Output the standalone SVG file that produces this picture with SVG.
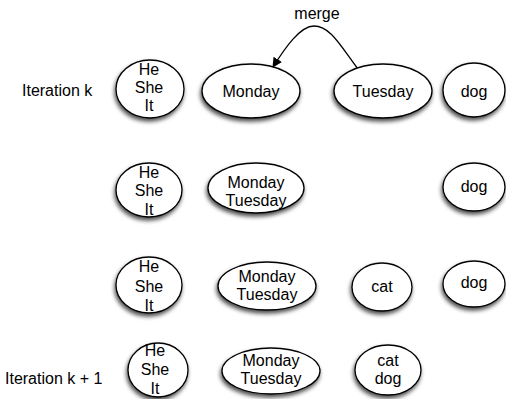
<svg xmlns="http://www.w3.org/2000/svg" width="506" height="399" viewBox="0 0 506 399">
<style>
text{font-family:"Liberation Sans",Arial,sans-serif;font-size:16px;fill:#000}
.c{text-anchor:middle}
.n{fill:#fff;stroke:#000;stroke-width:1.3;filter:url(#sh)}
.e{fill:none;stroke:#000;stroke-width:1.3}
</style>
<defs>
<filter id="sh" x="-30%" y="-30%" width="160%" height="170%">
<feDropShadow dx="-1" dy="3" stdDeviation="2" flood-color="#000" flood-opacity="0.7"/>
</filter>
<marker id="ah" viewBox="0 0 10 10" refX="9" refY="5" markerWidth="10" markerHeight="10" markerUnits="userSpaceOnUse" orient="auto">
<path d="M0,0 L10,5 L0,10 z" fill="#000"/>
</marker>
</defs>
<text x="22" y="96">Iteration k</text>
<text x="5" y="384">Iteration k + 1</text>
<g id="connectors">
<path class="e" d="M358,69 C340,45 330,26 314,26 C300,26 285,48 273,67" marker-end="url(#ah)"/>
<text class="c" x="317" y="19">merge</text>
</g>
<g id="r1-hesheit"><ellipse class="n" cx="150" cy="89" rx="34" ry="29"/><text class="c" x="149" y="75">He</text><text class="c" x="149" y="93">She</text><text class="c" x="149" y="111">It</text></g>
<g id="r1-monday"><ellipse class="n" cx="251" cy="91" rx="49" ry="27"/><text class="c" x="251" y="97">Monday</text></g>
<g id="r1-tuesday"><ellipse class="n" cx="383" cy="91" rx="49" ry="27"/><text class="c" x="383" y="97">Tuesday</text></g>
<g id="r1-dog"><ellipse class="n" cx="474" cy="90" rx="31" ry="27"/><text class="c" x="474" y="97">dog</text></g>
<g id="r2-hesheit"><ellipse class="n" cx="149" cy="190" rx="33" ry="27"/><text class="c" x="149" y="178">He</text><text class="c" x="149" y="196">She</text><text class="c" x="149" y="215">It</text></g>
<g id="r2-montue"><ellipse class="n" cx="256" cy="188" rx="48" ry="25"/><text class="c" x="256" y="188">Monday</text><text class="c" x="256" y="206">Tuesday</text></g>
<g id="r2-dog"><ellipse class="n" cx="474" cy="187" rx="31" ry="24"/><text class="c" x="474" y="192">dog</text></g>
<g id="r3-hesheit"><ellipse class="n" cx="149" cy="285" rx="33" ry="28"/><text class="c" x="149" y="272">He</text><text class="c" x="149" y="292">She</text><text class="c" x="149" y="311">It</text></g>
<g id="r3-montue"><ellipse class="n" cx="267" cy="286" rx="49" ry="24"/><text class="c" x="267" y="282">Monday</text><text class="c" x="267" y="300">Tuesday</text></g>
<g id="r3-cat"><ellipse class="n" cx="382" cy="287" rx="30" ry="24"/><text class="c" x="382" y="292">cat</text></g>
<g id="r3-dog"><ellipse class="n" cx="474" cy="284" rx="31" ry="23"/><text class="c" x="474" y="288">dog</text></g>
<g id="r4-hesheit"><ellipse class="n" cx="158" cy="370" rx="30" ry="27"/><text class="c" x="155" y="356">He</text><text class="c" x="155" y="375">She</text><text class="c" x="155" y="394">It</text></g>
<g id="r4-montue"><ellipse class="n" cx="271" cy="371" rx="49" ry="23"/><text class="c" x="271" y="366">Monday</text><text class="c" x="271" y="384">Tuesday</text></g>
<g id="r4-catdog"><ellipse class="n" cx="388" cy="370" rx="33" ry="25"/><text class="c" x="388" y="366">cat</text><text class="c" x="388" y="384">dog</text></g>
</svg>
